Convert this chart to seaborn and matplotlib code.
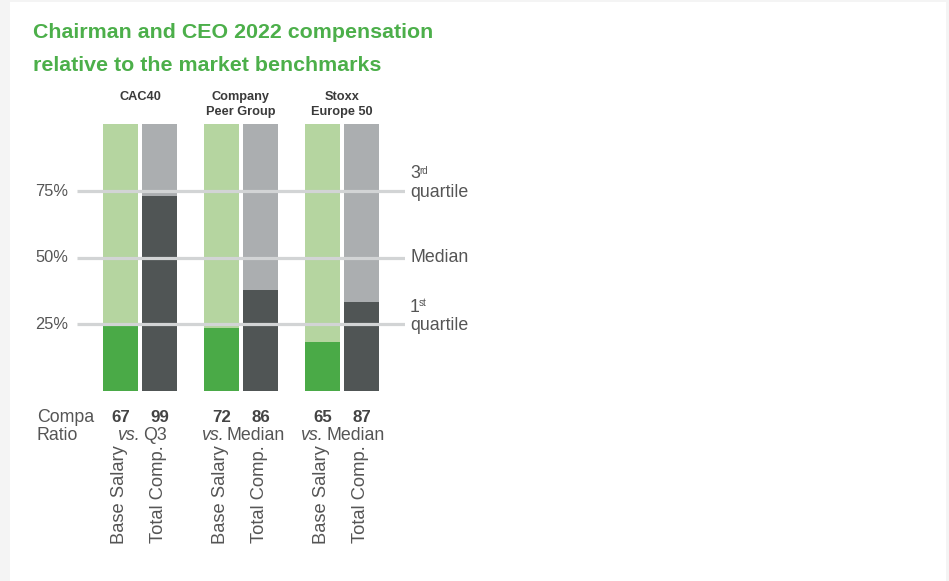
import matplotlib
matplotlib.use("Agg")
import matplotlib.pyplot as plt
import matplotlib.patches as mpatches
import pandas as pd
import seaborn as sns

# --- data -------------------------------------------------------------
benchmarks = ["CAC40", "Company\nPeer Group", "Stoxx\nEurope 50"]
measures = ["Base Salary", "Total Comp."]
base_salary_position = [24.4, 23.6, 18.4]      # percentile within benchmark
total_comp_position = [73.1, 37.9, 33.4]
compa_base = [67, 72, 65]
compa_total = [99, 86, 87]
compa_reference = ["Q3", "Median", "Median"]
quartiles = [25, 50, 75]
quartile_ticks = ["25%", "50%", "75%"]

# --- colours ----------------------------------------------------------
GREEN = "#4aaa47"
LIGHT_GREEN = "#b5d5a0"
DARK_GREY = "#505555"
LIGHT_GREY = "#abaeb0"
RULE = "#d2d4d5"
TEXT = "#555555"
TITLE_GREEN = "#4caf4a"

sns.set_theme(style="white")
plt.rcParams["font.family"] = ["Liberation Sans", "DejaVu Sans"]

W, H = 949, 581
fig = plt.figure(figsize=(W / 100, H / 100), dpi=100)
fig.patch.set_facecolor("#f4f4f4")
fig.patches.append(mpatches.Rectangle((10 / W, 0), (946 - 10) / W, (H - 2) / H,
                                      transform=fig.transFigure, facecolor="white",
                                      edgecolor="none", zorder=-5))


def fx(x):
    return x / W


def fy(y):
    return 1 - y / H


# plot area: 0..100 percentile, rules span the full width
left, right, top, bottom = 77, 405, 124.5, 391
ax = fig.add_axes([fx(left), fy(bottom), (right - left) / W, (bottom - top) / H])
ax.set_facecolor("none")
ax.set_zorder(2)

rows = []
for b, bs, tc in zip(benchmarks, base_salary_position, total_comp_position):
    rows.append({"benchmark": b, "measure": measures[0], "value": bs, "full": 100})
    rows.append({"benchmark": b, "measure": measures[1], "value": tc, "full": 100})
df = pd.DataFrame(rows)

bar_kw = dict(data=df, x="benchmark", hue="measure", order=benchmarks,
              hue_order=measures, width=0.772, gap=0.1026, saturation=1,
              linewidth=0, legend=False, ax=ax, errorbar=None)
sns.barplot(y="full", palette=[LIGHT_GREEN, LIGHT_GREY], **bar_kw)
sns.barplot(y="value", palette=[GREEN, DARK_GREY], **bar_kw)

ax.set_xlim(-0.6238, 2.6238)
ax.set_ylim(0, 100)
for q in quartiles:
    ax.axhline(q, color=RULE, lw=2.3, zorder=5, solid_capstyle="butt")
ax.set_xticks([])
ax.set_yticks([])
ax.set_xlabel("")
ax.set_ylabel("")
sns.despine(ax=ax, left=True, bottom=True)


def ypix(v):
    return bottom - (bottom - top) * v / 100


BODY = 12.8

# quartile labels on the left
for q, lab in zip(quartiles, quartile_ticks):
    fig.text(fx(68), fy(ypix(q)), lab, ha="right", va="center",
             fontsize=11.8, color=TEXT)

# quartile names on the right
fig.text(fx(410), fy(ypix(75) + 1), "quartile", ha="left", va="center", fontsize=BODY, color=TEXT)
fig.text(fx(410), fy(174), "3", ha="left", va="center", fontsize=BODY, color=TEXT)
fig.text(fx(419.5), fy(170.5), "rd", ha="left", va="center", fontsize=7, color=TEXT)
fig.text(fx(410), fy(ypix(50)), "Median", ha="left", va="center", fontsize=BODY, color=TEXT)
fig.text(fx(410), fy(ypix(25) + 1), "quartile", ha="left", va="center", fontsize=BODY, color=TEXT)
fig.text(fx(410), fy(307), "1", ha="left", va="center", fontsize=BODY, color=TEXT)
fig.text(fx(418.5), fy(303.5), "st", ha="left", va="center", fontsize=7, color=TEXT)

# title
fig.text(fx(33), fy(38), "Chairman and CEO 2022 compensation", ha="left",
         va="baseline", fontsize=15.4, fontweight="bold", color=TITLE_GREEN)
fig.text(fx(33), fy(71), "relative to the market benchmarks", ha="left",
         va="baseline", fontsize=15.4, fontweight="bold", color=TITLE_GREEN)

# benchmark headers and compa ratios
group_px = [140, 241, 342]
offset = 19.5
vs_end = [140, 224, 323]
for i, name in enumerate(benchmarks):
    gx = group_px[i]
    for j, ln in enumerate(name.split("\n")):
        fig.text(fx(gx), fy(100 + 15 * j), ln, ha="center", va="baseline",
                 fontsize=9.2, fontweight="bold", color="#3a3a3a")
    fig.text(fx(gx - offset), fy(421.5), str(compa_base[i]), ha="center",
             va="baseline", fontsize=12.2, fontweight="bold", color="#444444")
    fig.text(fx(gx + offset), fy(421.5), str(compa_total[i]), ha="center",
             va="baseline", fontsize=12.2, fontweight="bold", color="#444444")
    fig.text(fx(vs_end[i]), fy(440), "vs.", ha="right", va="baseline",
             fontsize=BODY, style="italic", color=TEXT)
    fig.text(fx(vs_end[i] + 3), fy(440), compa_reference[i], ha="left",
             va="baseline", fontsize=BODY, color=TEXT)
    for k, m in enumerate(measures):
        fig.text(fx(gx + (k * 2 - 1) * offset - 1), fy(445), m, rotation=90,
                 ha="center", va="top", fontsize=13.2, color=TEXT)

fig.text(fx(37), fy(421.5), "Compa", ha="left", va="baseline", fontsize=BODY, color=TEXT)
fig.text(fx(37), fy(440), "Ratio", ha="left", va="baseline", fontsize=BODY, color=TEXT)

fig.savefig("out.png", dpi=100, facecolor=fig.get_facecolor())
